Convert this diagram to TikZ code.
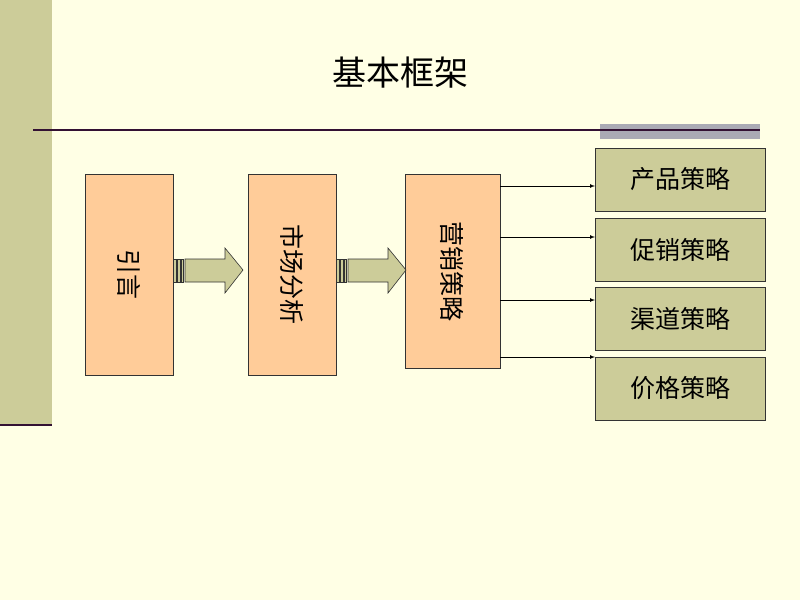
\documentclass[tikz,border=0pt]{standalone}
\usepackage{fontspec}
\newfontfamily\cjk{Noto Sans CJK SC}
\begin{document}
\begin{tikzpicture}[x=1pt,y=-1pt,
  orange/.style={draw=black!80,fill={rgb,255:red,255;green,204;blue,153},line width=0.8pt},
  olive/.style={draw=black!80,fill={rgb,255:red,204;green,204;blue,153},line width=0.8pt},
  txt/.style={font=\cjk\fontsize{25}{28}\selectfont},
  conn/.style={-latex,line width=0.7pt}]
\definecolor{bg}{RGB}{255,255,229}
\definecolor{purp}{RGB}{51,17,51}
\fill[bg] (0,0) rectangle (800,600);
\useasboundingbox (0,0) rectangle (800,600);
\fill[fill={rgb,255:red,204;green,204;blue,153}] (0,0) rectangle (52,425);
\draw[purp,line width=2.5pt] (0,425) -- (52,425);
\fill[fill={rgb,255:red,170;green,170;blue,180}] (600,124) rectangle (760,139);
\draw[purp,line width=1.2pt] (33,130) -- (760,130);
\node[font=\cjk\fontsize{34}{40}\selectfont] (title) at (400,73) {基本框架};
% left boxes
\draw[orange] (85,174) rectangle (173,375);
\node[txt,rotate=-90] (a) at (129,274) {引言};
\draw[orange] (248,174) rectangle (336,375);
\node[txt,rotate=-90] (b) at (292,274) {市场分析};
\draw[orange] (405,174) rectangle (500,368);
\node[txt,rotate=-90] (c) at (452,271) {营销策略};
% block arrows
\foreach \s in {173,336}{
  \draw[olive,line width=0.6pt] (\s+12,259) -- (\s+52,259) -- (\s+52,248) -- (\s+70,270) -- (\s+52,293) -- (\s+52,282) -- (\s+12,282) -- cycle;
  \draw[olive,line width=0.5pt] (\s,259) rectangle (\s+3,282);
  \draw[olive,line width=0.5pt] (\s+4,259) rectangle (\s+7,282);
  \draw[olive,line width=0.5pt] (\s+8,259) rectangle (\s+10,282);
}
% right boxes
\foreach \y/\t/\n in {148/产品策略/p1,218/促销策略/p2,287/渠道策略/p3,357/价格策略/p4}{
  \draw[olive] (595,\y) rectangle (765,\y+63);
  \node[txt] (\n) at (680,\y+31.5) {\t};
}
\foreach \y in {186,237,300,357}{
  \draw[conn] (500,\y) -- (595,\y);
}
\end{tikzpicture}
\end{document}
